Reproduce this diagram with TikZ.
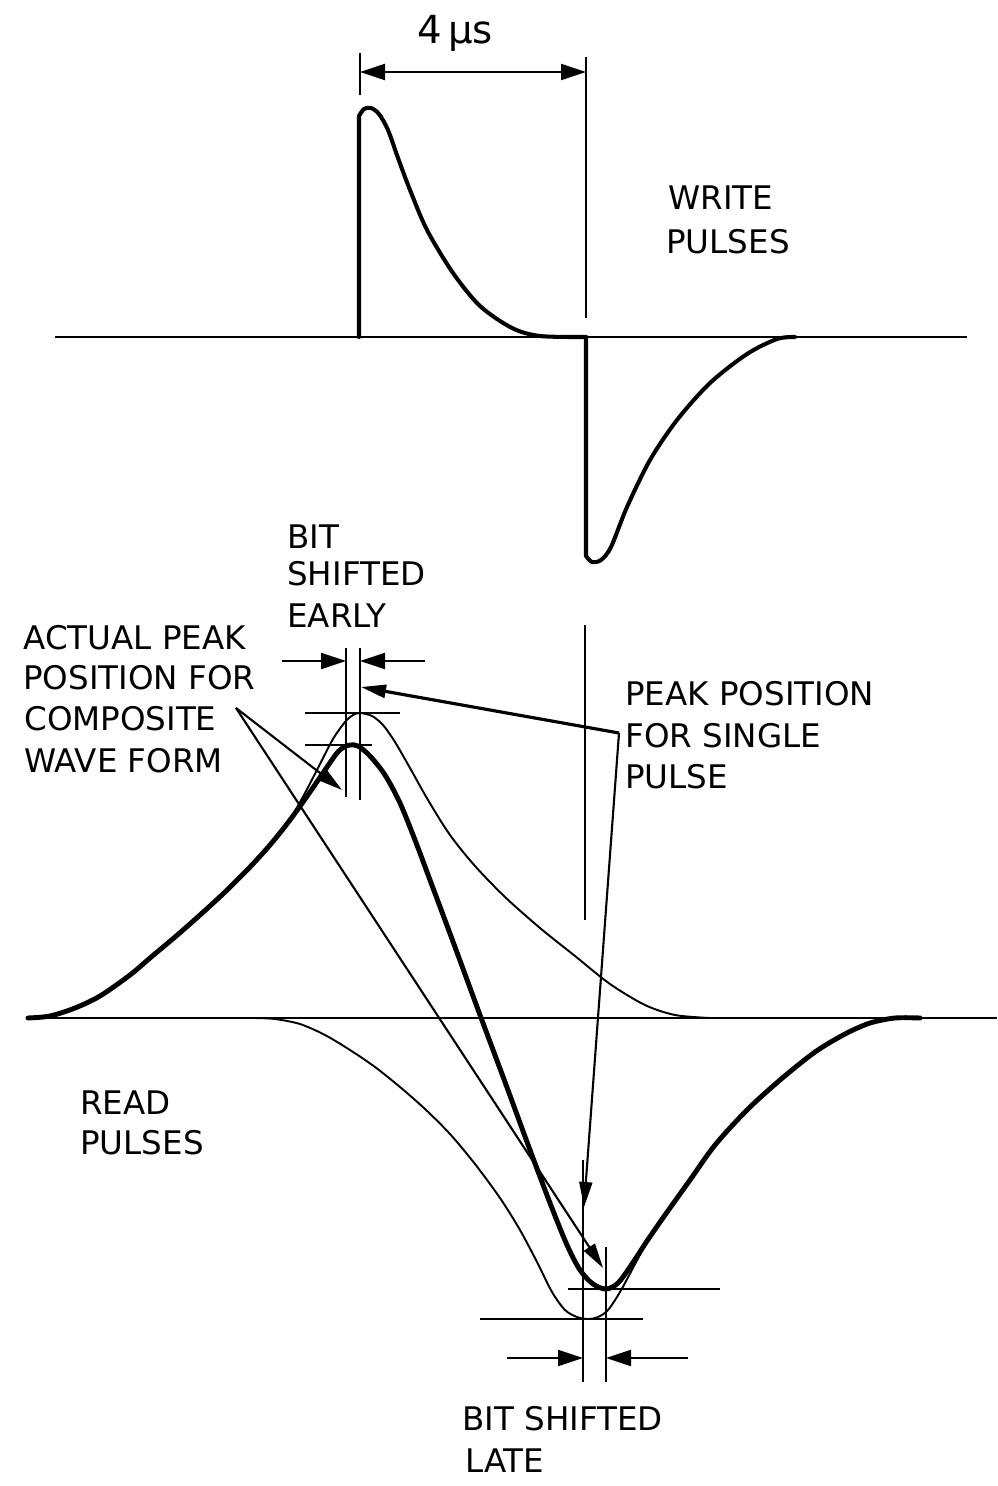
\documentclass[tikz,border=0pt]{standalone}
\usepackage{fontspec}
\setmainfont{DejaVu Sans}
\usetikzlibrary{arrows.meta}
\begin{document}
\begin{tikzpicture}[x=0.2mm,y=-0.2mm,
  lbl/.style={anchor=base west,inner sep=0pt,font=\fontsize{18.5}{22}\selectfont},
  axisline/.style={line width=1.6pt},
  wave/.style={line width=2.3pt,line join=round,line cap=round},
  comp/.style={line width=2.8pt,line join=round,line cap=round},
  thinwave/.style={line width=1.1pt,line join=round},
  refline/.style={line width=1.1pt},
  leader/.style={line width=1.2pt,-{Triangle[length=5mm,width=2.6mm]}},
  dimarrow/.style={line width=1.2pt,-{Triangle[length=5mm,width=3.2mm]}}
]
\useasboundingbox (0,0) rectangle (997,1486);

% ---------- labels ----------
\node[lbl,font=\fontsize{22}{26}\selectfont] (us) at (417,44) {4\,μs};
\node[lbl] (write1) at (668,210) {WRITE};
\node[lbl] (write2) at (666,254) {PULSES};
\node[lbl] (early1) at (287,548) {BIT};
\node[lbl] (early2) at (287,585) {SHIFTED};
\node[lbl] (early3) at (287,627) {EARLY};
\node[lbl] (act1) at (23,649) {ACTUAL PEAK};
\node[lbl] (act2) at (23,689) {POSITION FOR};
\node[lbl] (act3) at (24,730) {COMPOSITE};
\node[lbl] (act4) at (24,772) {WAVE FORM};
\node[lbl] (peak1) at (625,705) {PEAK POSITION};
\node[lbl] (peak2) at (625,747) {FOR SINGLE};
\node[lbl] (peak3) at (625,788) {PULSE};
\node[lbl] (read1) at (80,1114) {READ};
\node[lbl] (read2) at (80,1154) {PULSES};
\node[lbl] (late1) at (462,1430) {BIT SHIFTED};
\node[lbl] (late2) at (465,1472) {LATE};

% ---------- write pulses ----------
\draw[axisline] (55,337) -- (967,337);
\draw[refline] (360,53) -- (360,95);
\draw[refline] (586,57) -- (586,318);
\coordinate (d1) at (360,72);
\coordinate (d2) at (586,72);
\draw[dimarrow] (473,72) -- (d1);
\draw[dimarrow] (473,72) -- (d2);

\draw[wave] (359,337) -- plot[smooth] coordinates {(359,116) (364,109) (371,108) (379,114) (388,130) (398,158) (410,190) (427,230) (453,273) (480,306) (512,328) (540,336) (586,337)};
\draw[wave] (586,337) -- plot[smooth] coordinates {(586,556) (592,562) (601,560) (611,547) (627,507) (650,460) (677,420) (710,383) (747,354) (777,339) (795,337)};

% ---------- read pulses ----------
\draw[axisline] (28,1018) -- (997,1018);
\draw[refline] (585,625) -- (585,920);

% single pulses (thin)
\draw[thinwave] plot[smooth] coordinates {(28,1018) (50,1016) (75,1008) (100,996) (130,975) (150,958) (175,937) (200,915) (225,892) (250,867) (270,845) (290,819) (305,793) (320,764) (333,739) (345,722) (353,715) (360,713) (372,716) (383,725) (395,742) (410,768) (428,800) (450,835) (475,866) (505,897) (540,928) (575,956) (610,984) (645,1005) (675,1015) (710,1018)};
\draw[thinwave] plot[smooth] coordinates {(255,1018) (275,1019) (300,1024) (325,1035) (350,1050) (375,1067) (400,1087) (425,1109) (450,1134) (475,1164) (500,1198) (520,1230) (537,1262) (552,1292) (565,1310) (577,1317) (588,1319) (598,1317) (608,1310) (620,1292) (634,1266) (648,1240) (665,1214) (690,1180) (715,1145) (747,1110) (780,1080) (815,1052) (845,1034) (870,1023) (895,1018) (920,1018)};
% composite wave (thick)
\draw[comp] plot[smooth] coordinates {(28,1018) (50,1016) (75,1008) (100,996) (130,975) (150,958) (175,937) (200,915) (225,892) (250,867) (270,845) (290,820) (310,792) (325,770) (337,753) (344,747) (350,745) (358,746) (370,756) (385,775) (400,803) (415,840) (430,880) (455,947) (480,1015) (505,1082) (530,1150) (550,1203) (567,1245) (580,1270) (593,1284) (606,1289) (618,1283) (632,1264) (647,1241) (665,1215) (690,1180) (715,1145) (747,1110) (780,1080) (815,1052) (845,1034) (870,1023) (895,1018) (920,1018)};

% early shift marks
\draw[refline] (346,648) -- (346,797);
\draw[refline] (360,648) -- (360,800);
\draw[refline] (305,713) -- (400,713);
\draw[refline] (305,745) -- (372,745);
\coordinate (e1) at (346,661);
\coordinate (e2) at (360,661);
\draw[dimarrow] (282,661) -- (e1);
\draw[dimarrow] (425,661) -- (e2);

% late shift marks
\draw[refline] (583,1160) -- (583,1382);
\draw[refline] (606,1247) -- (606,1382);
\draw[refline] (568,1289) -- (720,1289);
\draw[refline] (480,1319) -- (643,1319);
\coordinate (l1) at (583,1358);
\coordinate (l2) at (606,1358);
\draw[dimarrow] (507,1358) -- (l1);
\draw[dimarrow] (688,1358) -- (l2);

% leaders
\coordinate (cpA) at (236,708);
\coordinate (cp1) at (342,790);
\coordinate (cp2) at (603,1268);
\draw[leader] (cpA) -- (cp1);
\draw[leader] (cpA) -- (cp2);
\coordinate (spA) at (619,733);
\coordinate (sp1) at (361,687);
\coordinate (sp2) at (584,1207);
\draw[leader,line width=1.8pt] (spA) -- (sp1);
\draw[leader] (spA) -- (sp2);
\end{tikzpicture}
\end{document}
